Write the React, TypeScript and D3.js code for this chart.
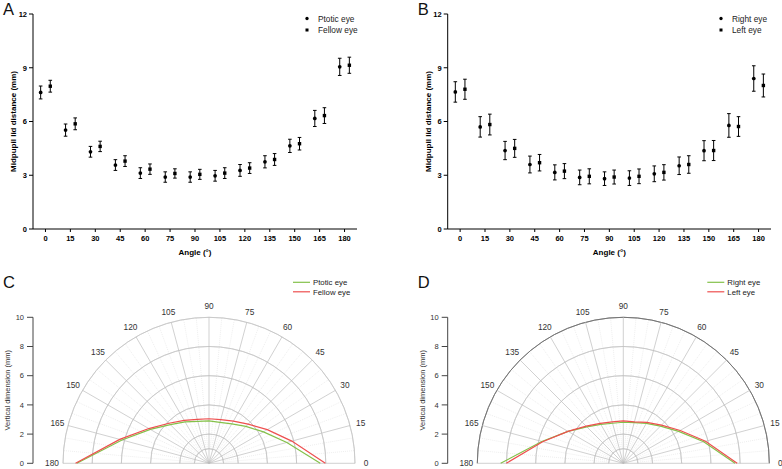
import React from "react";
import * as d3 from "d3";

const angles = [0, 15, 30, 45, 60, 75, 90, 105, 120, 135, 150, 165, 180];
const xTicks = angles;
const yTicksTop = [0, 3, 6, 9, 12];
const yTicksPolar = [0, 2, 4, 6, 8, 10];

const ptoticMean = [7.62, 5.52, 4.31, 3.57, 3.12, 2.9, 2.9, 2.97, 3.27, 3.75, 4.64, 6.17, 9.05];
const ptoticErr = [0.36, 0.34, 0.3, 0.3, 0.3, 0.29, 0.29, 0.3, 0.33, 0.34, 0.37, 0.45, 0.48];
const fellowMean = [7.97, 5.87, 4.61, 3.79, 3.34, 3.1, 3.05, 3.12, 3.4, 3.88, 4.76, 6.33, 9.14];
const fellowErr = [0.33, 0.33, 0.29, 0.3, 0.29, 0.26, 0.28, 0.3, 0.3, 0.33, 0.35, 0.44, 0.45];

const rightMean = [7.65, 5.7, 4.38, 3.6, 3.16, 2.88, 2.81, 2.84, 3.08, 3.53, 4.37, 5.78, 8.4];
const rightErr = [0.57, 0.57, 0.51, 0.47, 0.42, 0.41, 0.38, 0.41, 0.44, 0.49, 0.56, 0.66, 0.71];
const leftMean = [7.8, 5.83, 4.5, 3.7, 3.23, 2.94, 2.9, 2.94, 3.16, 3.6, 4.38, 5.72, 8.01];
const leftErr = [0.56, 0.58, 0.5, 0.46, 0.42, 0.42, 0.39, 0.41, 0.43, 0.49, 0.56, 0.55, 0.64];

const FONT = "'Liberation Sans', Arial, Helvetica, sans-serif";
const GREEN = "#84c14a";
const RED = "#ee4f4f";

type Series = { name: string; mean: number[]; err: number[]; shape: "circle" | "square" };

function Marker({ x, y, shape, s }: { x: number; y: number; shape: string; s: number }) {
  if (shape === "circle") return <circle cx={x} cy={y} r={s * 0.55} fill="#000" />;
  return <rect x={x - s / 2} y={y - s / 2} width={s} height={s} fill="#000" />;
}

function ScatterPanel({ x0, x1, label, series }: { x0: number; x1: number; label: string; series: Series[] }) {
  const y = d3.scaleLinear().domain([0, 12]).range([229, 14]);
  const x = d3.scaleLinear().domain([-7.5, 187.5]).range([x0, x1]);
  const dodge = [-2.9, 2.9];
  const cap = 1.8;
  return (
    <g fontFamily={FONT}>
      <text x={x0 - 30} y={15} fontSize={16.5} fill="#111">{label}</text>
      <line x1={x0} x2={x0} y1={y(0)} y2={y(12)} stroke="#000" strokeWidth={1} />
      {yTicksTop.map((t) => (
        <g key={t}>
          <line x1={x0 - 4} x2={x0} y1={y(t)} y2={y(t)} stroke="#000" strokeWidth={1} />
          <text x={x0 - 6} y={y(t) + 2.8} fontSize={7.5} fontWeight="bold" textAnchor="end">{t}</text>
        </g>
      ))}
      <line x1={x0} x2={x1} y1={y(0)} y2={y(0)} stroke="#000" strokeWidth={1} />
      {xTicks.map((t) => (
        <g key={t}>
          <line x1={x(t)} x2={x(t)} y1={y(0)} y2={y(0) + 3} stroke="#000" strokeWidth={1} />
          <text x={x(t)} y={y(0) + 11.5} fontSize={7.5} fontWeight="bold" textAnchor="middle">{t}</text>
        </g>
      ))}
      <text x={(x0 + x1) / 2} y={255} fontSize={8} fontWeight="bold" textAnchor="middle">Angle (°)</text>
      <text transform={`translate(${x0 - 17},${(y(0) + y(12)) / 2}) rotate(-90)`} fontSize={8} fontWeight="bold" textAnchor="middle">
        Midpupil lid distance (mm)
      </text>
      {series.map((s, si) =>
        angles.map((a, i) => {
          const cx = x(a + dodge[si]);
          const m = s.mean[i];
          const e = s.err[i];
          return (
            <g key={`${si}-${a}`}>
              <line x1={cx} x2={cx} y1={y(m - e)} y2={y(m + e)} stroke="#000" strokeWidth={1} />
              <line x1={cx - cap} x2={cx + cap} y1={y(m - e)} y2={y(m - e)} stroke="#000" strokeWidth={1} />
              <line x1={cx - cap} x2={cx + cap} y1={y(m + e)} y2={y(m + e)} stroke="#000" strokeWidth={1} />
              <Marker x={cx} y={y(m)} shape={s.shape} s={3.4} />
            </g>
          );
        })
      )}
      {series.map((s, si) => (
        <g key={s.name}>
          <Marker x={x1 - 50} y={18.5 + si * 11.5} shape={s.shape} s={3} />
          <text x={x1 - 39} y={21.5 + si * 11.5} fontSize={8.3} fill="#222">{s.name}</text>
        </g>
      ))}
    </g>
  );
}

type PSeries = { name: string; mean: number[]; color: string };

function PolarPanel({ cx, axisX, label, series, darkOuter }: { cx: number; axisX: number; label: string; series: PSeries[]; darkOuter: boolean }) {
  const cy = 463.3;
  const R = 146;
  const r = d3.scaleLinear().domain([0, 10]).range([0, R]);
  const yAxis = d3.scaleLinear().domain([0, 10]).range([cy, cy - R]);
  const toRad = (deg: number) => (deg * Math.PI) / 180;
  const arc = (rad: number) =>
    d3.arc()({ innerRadius: rad, outerRadius: rad, startAngle: -Math.PI / 2, endAngle: Math.PI / 2 }) as string;
  const minor = d3.range(0, 181, 5).filter((d) => d % 15 !== 0);
  const radial = d3
    .lineRadial<number>()
    .angle((_, i) => Math.PI / 2 - toRad(angles[i]))
    .radius((v) => r(v));
  const circles = [1, 2, 4, 6, 8];
  return (
    <g fontFamily={FONT}>
      <text x={axisX - 30} y={288} fontSize={16.5} fill="#111">{label}</text>
      <line x1={axisX} x2={axisX} y1={yAxis(0)} y2={yAxis(10)} stroke="#444" strokeWidth={1} />
      {yTicksPolar.map((t) => (
        <g key={t}>
          <line x1={axisX - 6} x2={axisX} y1={yAxis(t)} y2={yAxis(t)} stroke="#444" strokeWidth={1} />
          <text x={axisX - 9} y={yAxis(t) + 2.6} fontSize={7.5} fill="#333" textAnchor="end">{t}</text>
        </g>
      ))}
      <text transform={`translate(${axisX - 23},${cy - R / 2}) rotate(-90)`} fontSize={7.5} fill="#333" textAnchor="middle">
        Vertical dimension (mm)
      </text>
      <g transform={`translate(${cx},${cy})`}>
        {minor.map((a) => (
          <line key={a} x1={r(1) * Math.cos(toRad(a))} y1={-r(1) * Math.sin(toRad(a))} x2={R * Math.cos(toRad(a))} y2={-R * Math.sin(toRad(a))}
            stroke="#dcdcdc" strokeWidth={0.5} strokeDasharray="1,1" />
        ))}
        {circles.map((c) => (
          <path key={c} d={arc(r(c))} fill="none" stroke="#c4c4c4" strokeWidth={0.7} />
        ))}
        <path d={arc(R)} fill="none" stroke={darkOuter ? "#6e6e6e" : "#c4c4c4"} strokeWidth={darkOuter ? 0.8 : 0.7} />
        {angles.map((a) => (
          <line key={a} x1={0} y1={0} x2={R * Math.cos(toRad(a))} y2={-R * Math.sin(toRad(a))} stroke="#bdbdbd" strokeWidth={0.7} />
        ))}
        {angles.map((a) => (
          <text key={a} x={157 * Math.cos(toRad(a))} y={-157 * Math.sin(toRad(a)) + 3} fontSize={8.3} fill="#333" textAnchor="middle">
            {a}
          </text>
        ))}
        {series.map((s) => (
          <path key={s.name} d={radial(s.mean) as string} fill="none" stroke={s.color} strokeWidth={1.2} />
        ))}
      </g>
      {series.map((s, si) => (
        <g key={s.name}>
          <line x1={cx + 84} x2={cx + 101} y1={282.3 + si * 9.5} y2={282.3 + si * 9.5} stroke={s.color} strokeWidth={1.2} />
          <text x={cx + 104} y={285.3 + si * 9.5} fontSize={7.8} fill="#222">{s.name}</text>
        </g>
      ))}
    </g>
  );
}

export default function App() {
  return (
    <svg width={782} height={469} style={{ position: "absolute", left: 0, top: 0, background: "#fff" }}>
      <rect width={782} height={469} fill="#fff" />
      <ScatterPanel x0={33} x1={357} label="A" series={[
        { name: "Ptotic eye", mean: ptoticMean, err: ptoticErr, shape: "circle" },
        { name: "Fellow eye", mean: fellowMean, err: fellowErr, shape: "square" },
      ]} />
      <ScatterPanel x0={447.7} x1={771} label="B" series={[
        { name: "Right eye", mean: rightMean, err: rightErr, shape: "circle" },
        { name: "Left eye", mean: leftMean, err: leftErr, shape: "square" },
      ]} />
      <PolarPanel cx={209} axisX={33} label="C" darkOuter={false} series={[
        { name: "Ptotic eye", mean: ptoticMean, color: GREEN },
        { name: "Fellow eye", mean: fellowMean, color: RED },
      ]} />
      <PolarPanel cx={623.3} axisX={447.7} label="D" darkOuter={true} series={[
        { name: "Right eye", mean: rightMean, color: GREEN },
        { name: "Left eye", mean: leftMean, color: RED },
      ]} />
    </svg>
  );
}
